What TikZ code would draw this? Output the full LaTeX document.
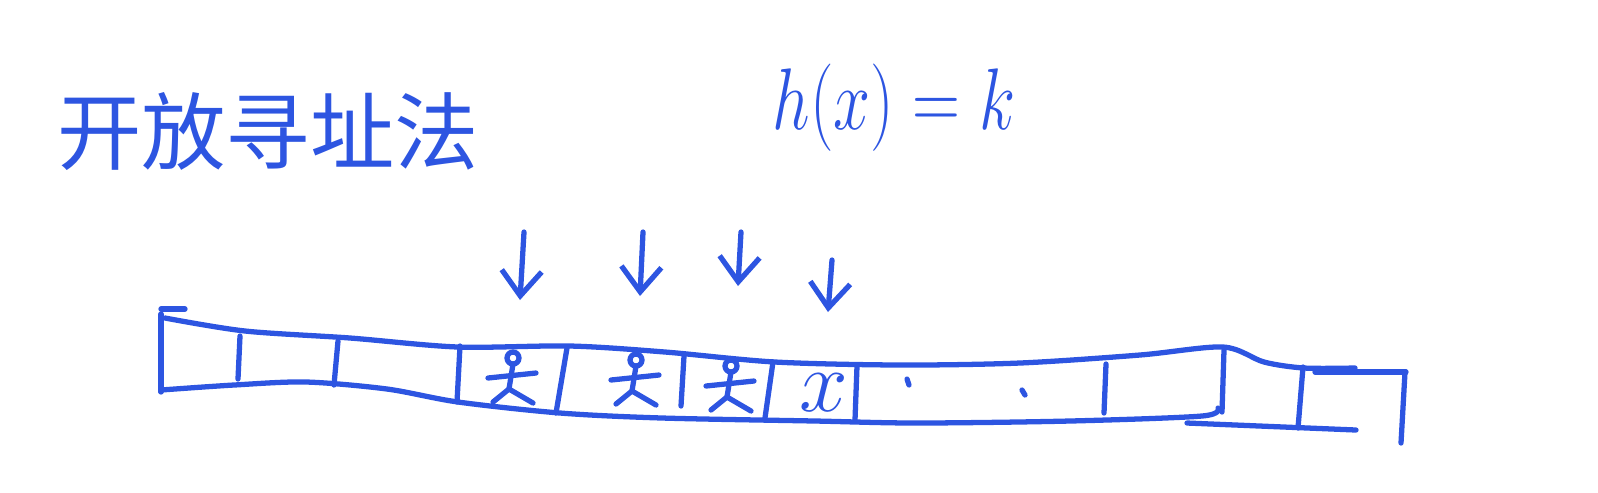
\documentclass[tikz,border=0pt]{standalone}
\usepackage{fontspec}
\newfontfamily\cjk{Noto Sans CJK SC}
\usetikzlibrary{arrows.meta}
\definecolor{pen}{RGB}{45,85,225}

\begin{document}
\begin{tikzpicture}[x=0.1mm,y=-0.1mm,>={Straight Barb[length=2.5mm,width=4mm]},
		ink/.style={draw=pen,line width=1.5pt,line cap=round,line join=round},
		title/.style={text=pen,inner sep=0pt,font=\cjk\fontsize{24}{28}\selectfont},
		formula/.style={text=pen,inner sep=0pt,font=\fontsize{36}{42}\selectfont},
		entry/.style={text=pen,inner sep=0pt,font=\fontsize{38}{44}\selectfont},
		person/.pic={
			\draw[ink] (0,-19) circle (0.6mm);
			\draw[ink] (0,-13) -- (-4,12);
			\draw[ink] (-25,1) -- (23,-4);
			\draw[ink] (-4,12) -- (-20,25);
			\draw[ink] (-4,12) -- (20,26);
		}]
		\useasboundingbox (0,0) rectangle (1598,492);
		
		% texts
		\node[title]   (name)    at (268,132)  {开放寻址法};
		\node[formula] (hash)    at (894,108)  {\scalebox{0.76}[1]{$h(x)=k$}};
		
		% probe arrows
		\coordinate (p1) at (524,232);  \coordinate (q1) at (520,300);
		\coordinate (p2) at (643,232);  \coordinate (q2) at (640,296);
		\coordinate (p3) at (741,232);  \coordinate (q3) at (738,286);
		\coordinate (p4) at (832,260);  \coordinate (q4) at (828,312);
		\foreach \i in {1,...,4}
			\draw[ink,->] (p\i) -- (q\i);
		
		% table
		\draw[ink] (161,309) -- (185,309);
		\draw[ink] (161,314) -- (161,392);
		\draw[ink] plot[smooth] coordinates {(165,318) (245,331) (350,338) (458,347) (570,346)
			(665,352) (775,362) (900,365) (1020,363) (1140,355) (1223,347) (1264,362) (1304,368) (1355,368)};
		\draw[ink] plot[smooth] coordinates {(161,390) (234,385) (306,382) (387,389) (458,402)
			(560,413) (662,418) (815,421) (917,423) (1070,421) (1202,416) (1218,408)};
		\draw[ink] (1315,372) -- (1406,372);
		\draw[ink] (1187,423) -- (1356,430);
		\foreach \xa/\ya/\xb/\yb in {240/336/238/379, 338/341/334/385, 460/346/457/402,
			567/348/556/413, 684/356/681/406, 773/362/765/418, 857/366/855/420,
			1106/364/1104/413, 1224/350/1222/412, 1303/367/1298/428, 1405/372/1401/443}
			\draw[ink] (\xa,\ya) -- (\xb,\yb);
		\draw[ink] (907,379) -- (909,385);
		\draw[ink] (1022,390) -- (1025,395);
		
		% occupied cells and x
		\pic (s1) at (513,377) {person};
		\pic (s2) at (636,379) {person};
		\pic (s3) at (731,385) {person};
		\node[entry] (item) at (824,393) {$x$};
		\end{tikzpicture}
\end{document}
